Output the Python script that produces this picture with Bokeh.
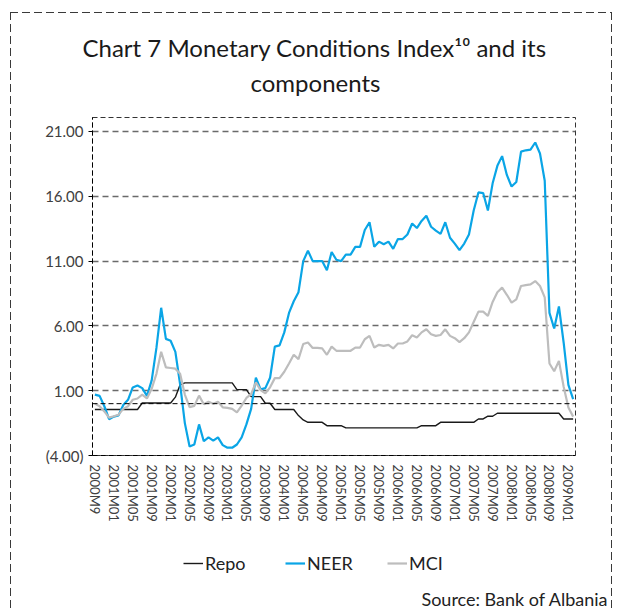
import math
from bokeh.plotting import figure
from bokeh.layouts import column
from bokeh.models import (FixedTicker, Span, Legend, LegendItem, Range1d, Title, Label)
from bokeh.embed import file_html
from bokeh.resources import INLINE

# ---------------- data (monthly, 2000M09 .. 2009M02) ----------------
repo = [-0.45, -0.45, -0.45, -0.45, -0.45, -0.45, -0.45, -0.45, -0.45, -0.45,
        0.05, 0.05, 0.05, 0.05, 0.05, 0.05, 0.05, 0.5, 1.45, 1.6,
        1.6, 1.6, 1.6, 1.6, 1.6, 1.6, 1.6, 1.6, 1.6, 1.6,
        1.08, 1.08, 1.08, 0.54, 0.54, 0.54, 0.03, 0.03, -0.45, -0.45,
        -0.45, -0.45, -0.45, -0.92, -1.26, -1.44, -1.44, -1.44, -1.44, -1.7,
        -1.7, -1.7, -1.7, -1.87, -1.87, -1.87, -1.87, -1.87, -1.87, -1.87,
        -1.87, -1.87, -1.87, -1.87, -1.87, -1.87, -1.87, -1.87, -1.87, -1.7,
        -1.7, -1.7, -1.7, -1.44, -1.44, -1.44, -1.44, -1.44, -1.44, -1.44,
        -1.44, -1.18, -1.18, -0.97, -0.97, -0.74, -0.74, -0.74, -0.74, -0.74,
        -0.74, -0.74, -0.74, -0.74, -0.74, -0.74, -0.74, -0.74, -0.74, -1.18,
        -1.18, -1.18]

neer = [0.7, 0.6, -0.2, -1.2, -1.0, -0.9, -0.1, 0.3, 1.25, 1.4,
        1.2, 0.6, 1.8, 4.3, 7.4, 5.0, 4.85, 4.0, 1.5, -1.5,
        -3.3, -3.15, -1.6, -2.9, -2.6, -2.85, -2.6, -3.2, -3.4, -3.4,
        -3.15, -2.6, -1.6, -0.4, 2.0, 1.1, 1.2, 2.0, 4.4, 4.5,
        5.5, 7.0, 7.9, 8.6, 11.0, 11.8, 11.0, 11.0, 11.0, 10.3,
        11.7, 11.1, 11.0, 11.5, 11.5, 12.1, 12.1, 13.4, 14.0, 12.1,
        12.5, 12.3, 12.5, 11.95, 12.7, 12.7, 13.05, 13.9, 13.55, 14.1,
        14.5, 13.65, 13.35, 13.1, 14.0, 12.8, 12.35, 11.85, 12.35, 13.05,
        14.9, 16.3, 16.25, 14.9, 17.0, 18.35, 19.1, 17.65, 16.75, 17.1,
        19.45, 19.55, 19.6, 20.15, 19.3, 17.2, 7.0, 5.8, 7.5, 4.7,
        1.45, 0.35]

mci = [0.0, -0.2, -0.6, -1.08, -0.97, -0.85, -0.4, -0.2, 0.3, 0.4,
       0.7, 0.4, 1.15, 2.3, 4.0, 2.8, 2.75, 2.7, 2.3, 0.7,
       -0.27, -0.17, 0.62, -0.05, 0.15, 0.0, 0.15, -0.28, -0.33, -0.4,
       -0.67, -0.15, 0.44, 0.74, 1.64, 1.05, 0.8, 1.26, 1.97, 1.97,
       2.46, 3.1, 3.77, 3.44, 4.6, 4.72, 4.3, 4.3, 4.26, 3.77,
       4.4, 4.08, 4.08, 4.08, 4.08, 4.33, 4.33, 4.97, 5.23, 4.33,
       4.54, 4.46, 4.54, 4.26, 4.64, 4.64, 4.8, 5.28, 5.1, 5.5,
       5.74, 5.36, 5.23, 5.3, 5.74, 5.23, 5.05, 4.75, 5.05, 5.5,
       6.3, 7.1, 7.1, 6.77, 7.85, 8.6, 8.95, 8.4, 7.8, 8.05,
       9.08, 9.15, 9.2, 9.46, 9.08, 8.2, 3.1, 2.5, 3.3, 1.3,
       -0.3, -1.0]

x_tick_labels = ["2000M9", "2001M01", "2001M05", "2001M09", "2002M01", "2002M05",
                 "2002M09", "2003M01", "2003M05", "2003M09", "2004M01", "2004M05",
                 "2004M09", "2005M01", "2005M05", "2005M09", "2006M01", "2006M05",
                 "2006M09", "2007M01", "2007M05", "2007M09", "2008M01", "2008M05",
                 "2008M09", "2009M01"]
y_ticks = [-4, 1, 6, 11, 16, 21]
y_tick_labels = ["(4.00)", "1.00", "6.00", "11.00", "16.00", "21.00"]
series_names = ["Repo", "NEER", "MCI"]
series_colors = ["#1a1a1a", "#0AA5E6", "#BDBDBD"]
series_widths = [1.4, 2.2, 2.2]
title_lines = ["Chart 7 Monetary Conditions Index\u00b9\u2070 and its", "components"]
source_text = "Source: Bank of Albania"

months = list(range(len(neer)))
x_ticks = [4 * k for k in range(len(x_tick_labels))]
series = [repo, neer, mci]

FONT = "Lato"

# ---------------- main chart ----------------
p = figure(width=618, height=540, output_backend="svg", toolbar_location=None,
           title=None,
           x_range=Range1d(-0.5, 101.5), y_range=Range1d(-4, 22.08),
           min_border_left=92, min_border_right=43, min_border_top=117,
           min_border_bottom=85)
p.background_fill_color = "white"
p.border_fill_alpha = 0
p.outline_line_color = "#333333"
p.outline_line_dash = "5 3"
p.outline_line_width = 1

p.yaxis.ticker = FixedTicker(ticks=y_ticks)
p.yaxis.major_label_overrides = dict(zip(y_ticks, y_tick_labels))
p.yaxis.axis_line_color = "black"
p.yaxis.axis_line_dash = "5 3"
p.yaxis.major_tick_out = 4
p.yaxis.major_tick_in = 0
p.yaxis.minor_tick_out = 0
p.yaxis.minor_tick_in = 0
p.yaxis.major_label_standoff = 5
p.yaxis.major_label_text_font = FONT
p.yaxis.major_label_text_font_size = "15px"
p.yaxis.major_label_text_color = "#404040"

p.xaxis.ticker = FixedTicker(ticks=x_ticks)
p.xaxis.major_label_overrides = dict(zip(x_ticks, x_tick_labels))
p.xaxis.major_label_orientation = -math.pi / 2
p.xaxis.axis_line_color = "black"
p.xaxis.axis_line_dash = "5 3"
p.xaxis.major_tick_out = 0
p.xaxis.major_tick_in = 0
p.xaxis.minor_tick_out = 0
p.xaxis.minor_tick_in = 0
p.xaxis.major_label_standoff = 9
p.xaxis.major_label_text_font = FONT
p.xaxis.major_label_text_font_size = "13px"
p.xaxis.major_label_text_color = "#404040"

p.xgrid.visible = False
p.ygrid.ticker = FixedTicker(ticks=[1, 6, 11, 16, 21])
p.ygrid.grid_line_color = "#6a6a6a"
p.ygrid.grid_line_dash = "6 4"
p.ygrid.grid_line_width = 1.5

p.add_layout(Span(location=0, dimension="width", line_color="black",
                  line_dash="5 3", line_width=1))

for vals, col, w in zip(series, series_colors, series_widths):
    p.line(months, vals, line_color=col, line_width=w)

# title block (stacked above the frame)
p.add_layout(Title(text=" ", standoff=8, text_font_size="10px"), "above")
p.add_layout(Title(text=title_lines[1], align="left", offset=158, standoff=0,
                   text_font=FONT, text_font_size="24px", text_font_style="normal",
                   text_color="#1a1a1a"), "above")
p.add_layout(Title(text=title_lines[0], align="left", offset=-10, standoff=7,
                   text_font=FONT, text_font_size="24px", text_font_style="normal",
                   text_color="#1a1a1a"), "above")

# ---------------- legend + source strip ----------------
q = figure(width=618, height=70, output_backend="svg", toolbar_location=None,
           title=None, x_axis_location=None, y_axis_location=None,
           x_range=Range1d(1000, 1001), y_range=Range1d(1000, 1001),
           min_border=0, min_border_left=0, min_border_right=0,
           min_border_top=0, min_border_bottom=0)
q.outline_line_color = None
q.background_fill_alpha = 0
q.border_fill_alpha = 0
q.xgrid.visible = False
q.ygrid.visible = False

# frame of the strip: full width if frame alignment can be switched off
frame_left = 0
try:
    q.frame_align = False
except Exception:
    frame_left = 92

items = []
for name, vals, col, w in zip(series_names, series, series_colors, series_widths):
    # same series drawn out of view: only used for the legend swatches
    r = q.line(months, vals, line_color=col, line_width=w)
    items.append(LegendItem(label=name, renderers=[r]))

legend = Legend(items=items, orientation="horizontal",
                location=(183 - frame_left, 36),
                padding=0, margin=0, spacing=6, glyph_width=20, glyph_height=20,
                label_standoff=2, label_height=20, label_width=74,
                border_line_alpha=0, background_fill_alpha=0,
                label_text_font=FONT, label_text_font_size="18px",
                label_text_color="#222222")
q.add_layout(legend)

q.add_layout(Label(x=608 - frame_left, y=12, x_units="screen", y_units="screen",
                   text=source_text, text_align="right",
                   text_baseline="alphabetic", text_font=FONT,
                   text_font_size="18px", text_color="#222222"))

dash_h = "repeating-linear-gradient(to right, #3a3a3a 0px, #3a3a3a 8px, transparent 8px, transparent 12px)"
dash_v = "repeating-linear-gradient(to bottom, #3a3a3a 0px, #3a3a3a 8px, transparent 8px, transparent 12px)"

layout = column(p, q, spacing=0, styles={
    "background-color": "white",
    "background-image": ", ".join([dash_h, dash_v, dash_v]),
    "background-size": "601px 1px, 1px 600px, 1px 600px",
    "background-position": "10px 12px, 10px 12px, 611px 12px",
    "background-repeat": "no-repeat",
})

open("out.html", "w").write(file_html(layout, INLINE))
